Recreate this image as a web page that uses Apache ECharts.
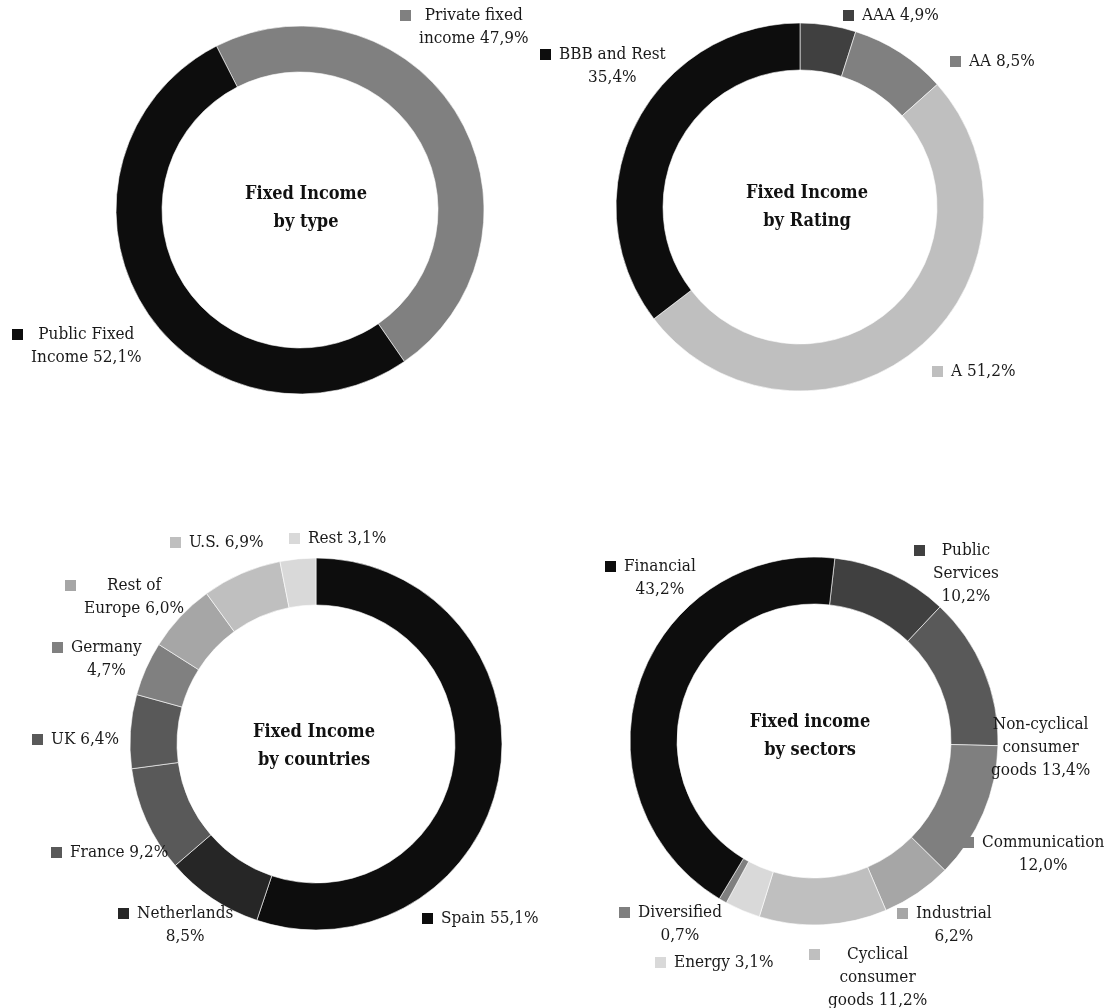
<!DOCTYPE html>
<html>
<head>
<meta charset="utf-8">
<script src="https://cdn.jsdelivr.net/npm/echarts@6/dist/echarts.min.js"></script>
<style>
html, body { margin: 0; padding: 0; background: #fff; }
#main { width: 1113px; height: 1008px; }
</style>
</head>
<body>
<div id="main"></div>
<script>
// Fixed Income by type
const typeNames = ['Private fixed\nincome', 'Public Fixed\nIncome'];
const typeValues = [47.9, 52.1];

// Fixed Income by Rating
const ratingNames = ['AAA', 'AA', 'A', 'BBB and Rest\n'];
const ratingValues = [4.9, 8.5, 51.2, 35.4];

// Fixed Income by countries
const countryNames = ['Spain', 'Netherlands\n', 'France', 'UK', 'Germany\n', 'Rest of\nEurope', 'U.S.', 'Rest'];
const countryValues = [55.1, 8.5, 9.2, 6.4, 4.7, 6.0, 6.9, 3.1];

// Fixed income by sectors
const sectorNames = ['Public\nServices\n', 'Non-cyclical\nconsumer\ngoods', 'Communication\n', 'Industrial\n',
    'Cyclical\nconsumer\ngoods', 'Energy', 'Diversified\n', 'Financial\n'];
const sectorValues = [10.2, 13.4, 12.0, 6.2, 11.2, 3.1, 0.7, 43.2];

const FONT = '"DejaVu Serif Condensed", "DejaVu Serif", serif';

// label boxes: left edge of the key square, top of the first line
const typeLabelPos = [[400, 4], [12, 323]];
const ratingLabelPos = [[843, 4], [950, 50], [932, 360], [540, 43]];
const countryLabelPos = [[422, 907], [118, 902], [51, 841], [32, 728], [52, 636], [65, 574], [170, 531], [289, 527]];
const sectorLabelPos = [[914, 539], [972, 713], [963, 831], [897, 902], [809, 943], [655, 951], [619, 901], [605, 555]];

const typeColors = ['#808080', '#0d0d0d'];
const ratingColors = ['#404040', '#808080', '#bfbfbf', '#0d0d0d'];
const countryColors = ['#0d0d0d', '#262626', '#595959', '#595959', '#808080', '#a6a6a6', '#bfbfbf', '#d9d9d9'];
const sectorColors = ['#404040', '#595959', '#7f7f7f', '#a6a6a6', '#bfbfbf', '#d9d9d9', '#7f7f7f', '#0d0d0d'];

function fmtVal(v) {
    return v.toFixed(1).replace('.', ',') + '%';
}

function labelText(name, v) {
    const full = name.endsWith('\n') ? name + fmtVal(v) : name + ' ' + fmtVal(v);
    return full.split('\n').map((line, i) =>
        (i === 0 ? '{sq|}{g|}' : '{sp|}') + '{t|' + line + '}'
    ).join('\n');
}

function buildData(names, values, colors) {
    return names.map((n, i) => ({
        name: n,
        value: values[i],
        itemStyle: { color: colors[i] },
        label: {
            formatter: labelText(n, values[i]),
            rich: {
                sq: { width: 11, height: 11, backgroundColor: colors[i], align: 'left', lineHeight: 23 },
                g: { width: 8, height: 10, align: 'left', lineHeight: 23 },
                sp: { width: 19, height: 10, align: 'left', lineHeight: 23 },
                t: { fontFamily: FONT, fontSize: 17, color: '#1a1a1a', align: 'center', lineHeight: 23 }
            }
        }
    }));
}

function donut(names, values, colors, center, radius, startAngle, pos) {
    return {
        type: 'pie',
        center: center,
        radius: radius,
        startAngle: startAngle,
        clockwise: true,
        avoidLabelOverlap: false,
        silent: true,
        itemStyle: { borderColor: '#ffffff', borderWidth: 0.6 },
        label: { show: true, position: 'outside' },
        labelLine: { show: false },
        labelLayout: function (p) {
            return { x: pos[p.dataIndex][0], y: pos[p.dataIndex][1], align: 'left', verticalAlign: 'top' };
        },
        data: buildData(names, values, colors)
    };
}

function centerTitle(text, x, y) {
    return {
        text: text,
        left: x,
        top: y,
        padding: 0,
        textAlign: 'center',
        textVerticalAlign: 'middle',
        textStyle: { fontFamily: FONT, fontSize: 18, fontWeight: 'bold', color: '#111', lineHeight: 28 }
    };
}

const chart = echarts.init(document.getElementById('main'), null, { renderer: 'canvas' });

chart.setOption({
    backgroundColor: '#ffffff',
    animation: false,
    title: [
        centerTitle('Fixed Income\nby type', 306, 208),
        centerTitle('Fixed Income\nby Rating', 807, 207),
        centerTitle('Fixed Income\nby countries', 314, 746),
        centerTitle('Fixed income\nby sectors', 810, 736)
    ],
    series: [
        donut(typeNames, typeValues, typeColors, [300, 210], [138, 184], 117, typeLabelPos),
        donut(ratingNames, ratingValues, ratingColors, [800, 207], [137, 184], 90, ratingLabelPos),
        donut(countryNames, countryValues, countryColors, [316, 744], [139, 186], 90, countryLabelPos),
        donut(sectorNames, sectorValues, sectorColors, [814, 741], [137, 184], 83.5, sectorLabelPos)
    ]
});
</script>
</body>
</html>
